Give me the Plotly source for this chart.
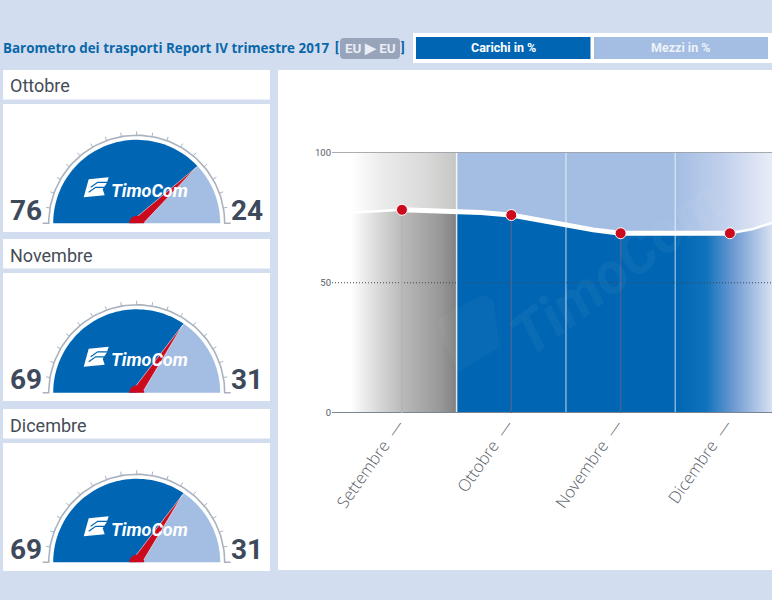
import numpy as np
import plotly.graph_objects as go

W, H = 772, 600

# main chart
months = ["Settembre", "Ottobre", "Novembre", "Dicembre"]
month_pos = [0, 1, 2, 3]
month_vals = [78, 76, 69, 69]
tick_vals = [0, 50, 100]

# curve (position in months, percent)
curve_x = [-0.47, -0.28, 0, 0.28, 0.5, 0.72, 1, 1.25, 1.5, 1.75, 2, 2.5, 3, 3.2, 3.385]
curve_y = [76.9, 77.3, 78, 77.7, 77, 77, 76, 74.2, 72, 70.3, 69, 69.2, 69, 70.5, 73]
drop_colors = ["#b4b4b4", "#3f6496", "#3f6496", None]
band_edges = [0.5, 1.5, 2.5]

# gauges
gauge_names = ["Ottobre", "Novembre", "Dicembre"]
gauge_loads = [76, 69, 69]
gauge_vehicles = [24, 31, 31]

BG = "#d3ddf0"
BLUE = "#0066b3"
LIGHT = "#a3bde3"
RED = "#cc0a1e"
SLATE = "#3e4a5c"


def xp(x):
    return x / W


def yp(y):
    return 1 - y / H


def rect(x0, y0, x1, y1, color):
    return dict(type="rect", xref="paper", yref="paper", x0=xp(x0), x1=xp(x1),
                y0=yp(y0), y1=yp(y1), fillcolor=color, line_width=0, layer="below")


def label(x, y, text, size, color, anchor="center", family="Roboto", **kw):
    return dict(x=xp(x), y=yp(y), xref="paper", yref="paper", text=text, showarrow=False,
                xanchor=anchor, yanchor="middle", font=dict(size=size, color=color, family=family), **kw)


def pix_path(points):
    return "M " + " L ".join(f"{xp(x)} {yp(y)}" for x, y in points) + " Z"


fig = go.Figure()

cx = np.array(curve_x)
cy = np.array(curve_y)
left = cx <= 0.5
right = cx >= 0.5
x_end = 3.385

# areas above and below the curve
areas = [
    (cx[left], cy[left], 100, [[0, "#ffffff"], [0.3, "#ebebeb"], [0.7, "#dadada"], [1, "#c6c6c4"]]),
    (cx[left], cy[left], 0, [[0, "#ffffff"], [0.28, "#d6d6d6"], [0.5, "#b8b8b8"], [0.85, "#989898"], [1, "#808080"]]),
    (cx[right], cy[right], 100, [[0, LIGHT], [0.69, LIGHT], [0.85, "#c2d1ec"], [1, "#e8edf8"]]),
    (cx[right], cy[right], 0, [[0, BLUE], [0.69, BLUE], [0.79, "#0f72bb"], [0.88, "#6f9bd2"], [1, "#d8e1f3"]]),
]
for ax_x, ax_y, base, scale in areas:
    fig.add_trace(go.Scatter(
        x=list(ax_x) + [ax_x[-1], ax_x[0]],
        y=list(ax_y) + [base, base],
        mode="none",
        fill="toself",
        fillgradient=dict(type="horizontal", colorscale=scale),
        hoverinfo="skip",
    ))

# segment separators
for edge, alpha in zip(band_edges, [0.8, 0.5, 0.5]):
    fig.add_trace(go.Scatter(x=[edge, edge], y=[0, 100], mode="lines",
                             line=dict(color=f"rgba(255,255,255,{alpha})", width=1.5), hoverinfo="skip"))

# reference lines
for v, dash, color, width in zip(tick_vals, ["solid", "1px,2px", "solid"], ["#7d8794", "#3f4a5c", "#555c66"], [2, 1, 1]):
    fig.add_trace(go.Scatter(x=[-0.64, x_end], y=[v, v], mode="lines", cliponaxis=False,
                             line=dict(color=color, width=width, dash=dash), hoverinfo="skip"))

# drop lines to the month labels
for m, v, color in zip(month_pos, month_vals, drop_colors):
    if color:
        fig.add_trace(go.Scatter(x=[m, m], y=[v, -3], mode="lines", cliponaxis=False,
                                 line=dict(color=color, width=1.5), hoverinfo="skip"))

# the white line is only heavy in the middle of the chart
for mask, width in ((cx <= 0, 2.5), ((cx >= 0) & (cx <= 3), 5), (cx >= 3, 2.5)):
    fig.add_trace(go.Scatter(x=cx[mask], y=cy[mask], mode="lines", line=dict(color="white", width=width), hoverinfo="skip"))
fig.add_trace(go.Scatter(x=month_pos, y=month_vals, mode="markers",
                         marker=dict(color=RED, size=11, line=dict(color="white", width=1)),
                         hovertemplate="%{y}<extra></extra>"))


def draw_gauge(n, load):
    xa, ya = f"x{n}", f"y{n}"
    # wedges
    split = np.pi * (1 - load / 100)
    a1 = np.linspace(np.pi, split, 60)
    a2 = np.linspace(split, 0, 60)
    for ang, color in ((a1, BLUE), (a2, LIGHT)):
        fig.add_trace(go.Scatter(x=[0] + list(83.5 * np.cos(ang)) + [0], y=[0] + list(83.5 * np.sin(ang)) + [0],
                                 xaxis=xa, yaxis=ya, mode="none", fill="toself", fillcolor=color, hoverinfo="skip"))
    # rim and ticks
    rim = np.linspace(np.pi, 0, 90)
    fig.add_trace(go.Scatter(x=[-94] + list(88 * np.cos(rim)) + [94], y=[0] + list(88 * np.sin(rim)) + [0],
                             xaxis=xa, yaxis=ya, mode="lines", line=dict(color="#aab2be", width=1.6), hoverinfo="skip"))
    tx, ty = [], []
    for deg in range(10, 180, 10):
        a = np.radians(deg)
        tx += [88 * np.cos(a), 92 * np.cos(a), None]
        ty += [88 * np.sin(a), 92 * np.sin(a), None]
    fig.add_trace(go.Scatter(x=tx, y=ty, xaxis=xa, yaxis=ya, mode="lines",
                             line=dict(color="#aab2be", width=1), hoverinfo="skip"))
    # logo mark
    lx = [-53, -48, -28, -30, -34, -32, -53]
    ly = [26, 44, 46, 40, 34, 28, 26]
    fig.add_trace(go.Scatter(x=lx + lx[:1], y=ly + ly[:1], xaxis=xa, yaxis=ya, mode="none",
                             fill="toself", fillcolor="white", hoverinfo="skip"))
    fig.add_trace(go.Scatter(x=[-48, -41, -30, None, -46, -39, -29], y=[31, 36, 36, None, 36, 41, 41],
                             xaxis=xa, yaxis=ya, mode="lines", line=dict(color=BLUE, width=1.2), hoverinfo="skip"))
    # needle, its foot stays above the baseline
    ux, uy = np.cos(split), np.sin(split)
    nx_, ny_ = -uy, ux
    nd_x = [6 * ux + 4.5 * nx_, 82 * ux, 6 * ux - 4.5 * nx_]
    nd_y = [6 * uy + 4.5 * ny_, 82 * uy, 6 * uy - 4.5 * ny_]
    fig.add_trace(go.Scatter(x=nd_x + nd_x[:1], y=nd_y + nd_y[:1], xaxis=xa, yaxis=ya, mode="lines",
                             fill="toself", fillcolor=RED, line=dict(color="#f3f5fa", width=0.6), hoverinfo="skip"))
    hub = np.linspace(np.pi, 0, 30)
    fig.add_trace(go.Scatter(x=7.5 * np.cos(hub), y=7.5 * np.sin(hub), xaxis=xa, yaxis=ya, mode="none",
                             fill="toself", fillcolor=RED, hoverinfo="skip"))


# layout geometry in pixels
panel_tops = [70, 239, 409]
hub_x = 136.7
hub_ys = [223.3, 392.8, 562.3]

shapes = [
    rect(278, 70, 772, 570, "white"),
    rect(413, 33, 772, 63, "white"),
    rect(416, 37, 590.5, 59, BLUE),
    rect(594, 37, 768, 59, LIGHT),
    dict(type="path", xref="paper", yref="paper", layer="below", fillcolor="#98a4ba", line_width=0,
         path=f"M {xp(344)} {yp(38)} L {xp(396)} {yp(38)} Q {xp(400)} {yp(38)} {xp(400)} {yp(42)} "
              f"L {xp(400)} {yp(55)} Q {xp(400)} {yp(59)} {xp(396)} {yp(59)} L {xp(344)} {yp(59)} "
              f"Q {xp(340)} {yp(59)} {xp(340)} {yp(55)} L {xp(340)} {yp(42)} Q {xp(340)} {yp(38)} {xp(344)} {yp(38)} Z"),
    # faint watermark mark
    dict(type="path", xref="paper", yref="paper", layer="above", line_width=0, fillcolor="rgba(255,255,255,0.03)",
         path=pix_path([(438, 320), (457, 308), (483, 295), (493, 300), (500, 347), (458, 372), (443, 340)])),
]

annotations = [
    label(1, 48, "<b>Barometro dei trasporti Report IV trimestre 2017</b>", 13.4, "#0a68a8", "left", "Open Sans"),
    label(337, 48, "<b>[</b>", 13, "#0a68a8"),
    label(370, 48, "<b>EU ▶ EU</b>", 13.5, "#e9edf5"),
    label(403, 48, "<b>]</b>", 13, "#0a68a8"),
    label(503, 48, "<b>Carichi in %</b>", 12.5, "white"),
    label(681, 48, "<b>Mezzi in %</b>", 12.5, "#eef2fa"),
    label(617, 268, "<b><i>TimoCom</i></b>", 58, "rgba(255,255,255,0.045)", textangle=-37),
]

layout_axes = {}
for i, (top, hub_y, name, load, veh) in enumerate(zip(panel_tops, hub_ys, gauge_names, gauge_loads, gauge_vehicles)):
    n = i + 2
    shapes.append(rect(3, top, 270, top + 29.5, "white"))
    shapes.append(rect(3, top + 34, 270, top + 162, "white"))
    annotations.append(label(8, top + 16, name, 18, "#454c56", "left"))
    annotations.append(label(25.5, hub_y - 13, f"<b>{load}</b>", 28, SLATE))
    annotations.append(label(247, hub_y - 13, f"<b>{veh}</b>", 28, SLATE))
    annotations.append(label(109, hub_y - 33, "<b><i>TimoCom</i></b>", 18, "white", "left"))
    draw_gauge(n, load)
    bottom = top + 162
    layout_axes[f"xaxis{n}"] = dict(domain=[xp(3), xp(270)], range=[3 - hub_x, 270 - hub_x], visible=False, fixedrange=True)
    layout_axes[f"yaxis{n}"] = dict(domain=[yp(bottom), yp(top + 34)], range=[hub_y - bottom, hub_y - top - 34],
                                    visible=False, fixedrange=True)

fig.update_layout(
    template="none",
    width=W,
    height=H,
    autosize=False,
    margin=dict(l=0, r=0, t=0, b=0),
    paper_bgcolor=BG,
    plot_bgcolor="rgba(0,0,0,0)",
    showlegend=False,
    hovermode="closest",
    shapes=shapes,
    annotations=annotations,
    font=dict(family="Roboto"),
    xaxis=dict(
        domain=[xp(332), 1],
        range=[-0.64, x_end],
        tickvals=month_pos,
        ticktext=[m + "  —" for m in months],
        tickangle=-55,
        ticks="",
        ticklabelshift=-4,
        ticklabelstandoff=-2,
        showgrid=False,
        zeroline=False,
        showline=False,
        tickfont=dict(family="Open Sans", size=16.5, color="#5a6068", weight=300),
    ),
    yaxis=dict(
        domain=[yp(413), yp(152.5)],
        range=[0, 100],
        tickvals=tick_vals,
        ticks="",
        showgrid=False,
        zeroline=False,
        showline=False,
        tickfont=dict(family="Roboto", size=9.5, color="#555c66"),
    ),
    **layout_axes,
)

fig.write_html("out.html", config={"displayModeBar": False}, post_script="document.body.style.margin='0';")
